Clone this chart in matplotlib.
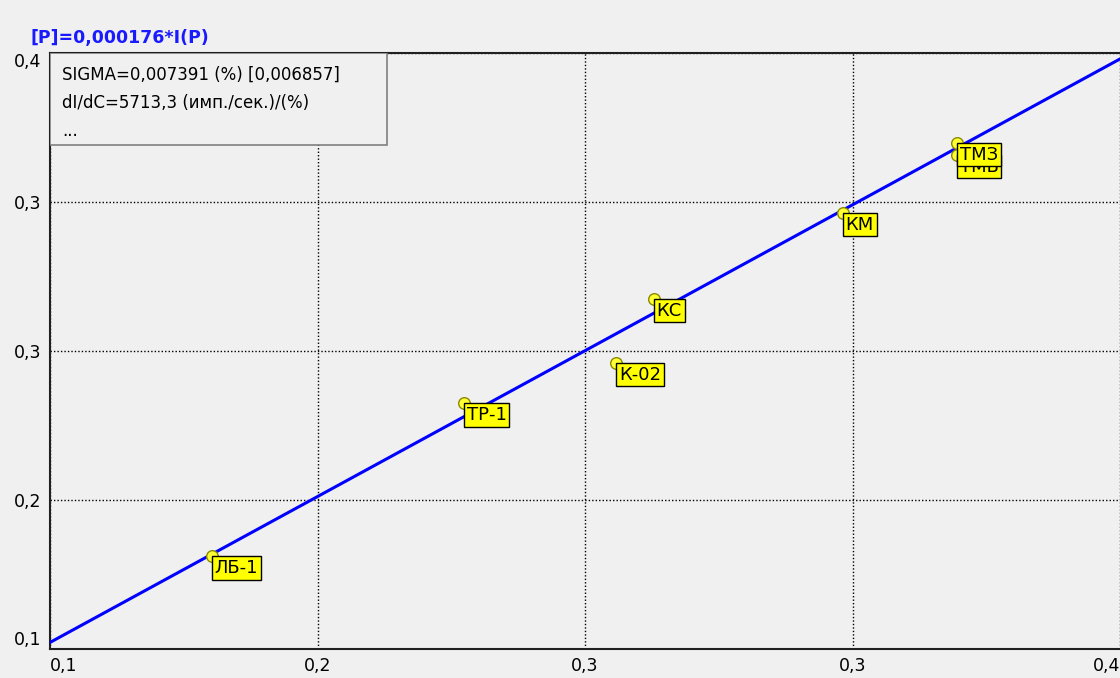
import matplotlib.pyplot as plt
from matplotlib.patches import Rectangle

# calibration samples: certified vs. computed concentration, %
sample_names = ["ТМБ", "ТМЗ", "КМ", "КС", "К-02", "ТР-1", "ЛБ-1"]
x_values = [0.3543, 0.3543, 0.3223, 0.2693, 0.2587, 0.2161, 0.1454]
y_values = [0.3487, 0.3547, 0.3195, 0.2762, 0.2440, 0.2238, 0.1468]

# regression line end points
fit_x = [0.1, 0.4]
fit_y = [0.1033, 0.3970]

tick_values = [0.1, 0.175, 0.25, 0.325, 0.4]
tick_labels = ["0,1", "0,2", "0,3", "0,3", "0,4"]

title_text = "[P]=0,000176*I(P)"
info_lines = [
    "SIGMA=0,007391 (%) [0,006857]",
    "dI/dC=5713,3 (имп./сек.)/(%)",
    "...",
]

BG = "#f0f0f0"
plt.rcParams["font.family"] = ["DejaVu Sans"]

fig = plt.figure(figsize=(11.2, 6.78), dpi=100, facecolor=BG)
ax = fig.add_axes([50 / 1120, 1 - 649 / 678, 1070 / 1120, 596 / 678])
ax.set_facecolor(BG)
ax.set_xlim(0.1, 0.4)
ax.set_ylim(0.1, 0.4)

ax.set_xticks(tick_values)
ax.set_yticks(tick_values)
ax.set_xticklabels(tick_labels, fontsize=12.5)
ax.set_yticklabels(tick_labels, fontsize=12.5)
ax.tick_params(length=0, pad=6)
xl = ax.get_xticklabels()
xl[0].set_ha("left")
xl[-1].set_ha("right")
yl = ax.get_yticklabels()
yl[0].set_va("bottom")
yl[-1].set_va("top")

ax.grid(True, color="black", linestyle=(0, (1, 1.5)), linewidth=1)
for side in ["left", "bottom", "top"]:
    ax.spines[side].set_color("#202020")
    ax.spines[side].set_linewidth(1.5)
ax.spines["right"].set_visible(False)

ax.plot(fit_x, fit_y, color="#0000ff", linewidth=2.2, zorder=3)

ax.scatter(x_values, y_values, s=70, color="#ffff33", edgecolor="#8a8a00",
           linewidth=1, zorder=4)
for name, x, y in zip(sample_names, x_values, y_values):
    ax.annotate(name, (x, y), xytext=(2, -2), textcoords="offset points",
                ha="left", va="top", fontsize=13, zorder=5,
                bbox=dict(boxstyle="square,pad=0.15", facecolor="#ffff00",
                          edgecolor="black", linewidth=1))

# info box in the upper left corner
ax.add_patch(Rectangle((0, 1 - 92 / 596), 337 / 1070, 92 / 596,
                       transform=ax.transAxes, facecolor=BG,
                       edgecolor="#808080", linewidth=1.2, zorder=6))
for i, line in enumerate(info_lines):
    ax.text(12 / 1070, 1 - (22 + 28 * i) / 596, line, transform=ax.transAxes,
            fontsize=12, va="center", ha="left", zorder=7)

fig.text(30 / 1120, 1 - 38 / 678, title_text, color="#1a1aff",
         fontsize=12.5, fontweight="bold", ha="left", va="center")

fig.savefig("out.png", dpi=100, facecolor=BG)
